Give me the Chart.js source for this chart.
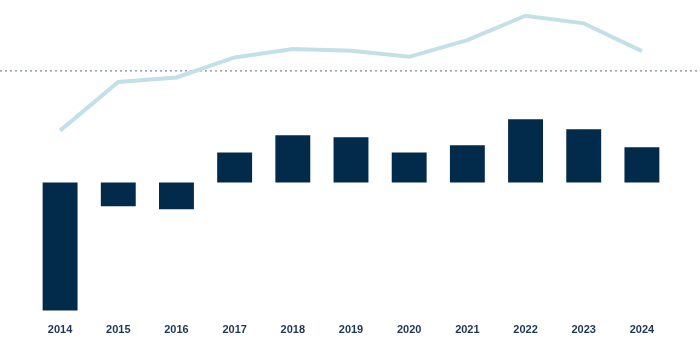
<!DOCTYPE html>
<html>
<head>
<meta charset="utf-8">
<script src="https://cdn.jsdelivr.net/npm/chart.js@4/dist/chart.umd.min.js"></script>
<style>
html,body{margin:0;padding:0;background:#fff;}
#wrap{width:700px;height:351px;position:relative;}
</style>
</head>
<body>
<div id="wrap"><canvas id="c" width="700" height="351"></canvas></div>
<script>
const categories = ["2014","2015","2016","2017","2018","2019","2020","2021","2022","2023","2024"];
const barValues = [-12.77,-2.37,-2.67,3.0,4.7,4.5,3.0,3.7,6.3,5.3,3.5];
const lineValues = [5.17,10.03,10.47,12.47,13.3,13.13,12.53,14.2,16.63,15.87,13.1];
const referenceLevel = [11.13];

const refLinePlugin = {
  id: 'refLine',
  beforeDatasetsDraw(chart) {
    const y = chart.scales.y.getPixelForValue(referenceLevel[0]);
    const ctx = chart.ctx;
    ctx.save();
    ctx.strokeStyle = '#7d8b98';
    ctx.lineWidth = 1.4;
    ctx.setLineDash([2, 3]);
    ctx.beginPath();
    ctx.moveTo(0, y);
    ctx.lineTo(chart.width, y);
    ctx.stroke();
    ctx.restore();
  }
};

new Chart(document.getElementById('c'), {
  data: {
    labels: categories,
    datasets: [
      {
        type: 'line',
        data: lineValues,
        borderColor: '#c2e0e8',
        borderWidth: 4,
        pointRadius: 0,
        tension: 0,
        fill: false,
        order: 0
      },
      {
        type: 'bar',
        data: barValues,
        backgroundColor: '#022a4a',
        barPercentage: 0.6,
        categoryPercentage: 1.0,
        order: 1
      }
    ]
  },
  options: {
    responsive: false,
    animation: false,
    layout: { padding: { left: 31, right: 29, top: 2, bottom: 3 } },
    plugins: { legend: { display: false }, tooltip: { enabled: false } },
    scales: {
      x: {
        grid: { display: false, drawTicks: false },
        border: { display: false },
        ticks: {
          padding: 11,
          color: '#1d3656',
          font: { family: 'Liberation Sans', size: 11, weight: 'bold' }
        }
      },
      y: {
        display: false,
        min: -13,
        max: 18
      }
    }
  },
  plugins: [refLinePlugin]
});
</script>
</body>
</html>
